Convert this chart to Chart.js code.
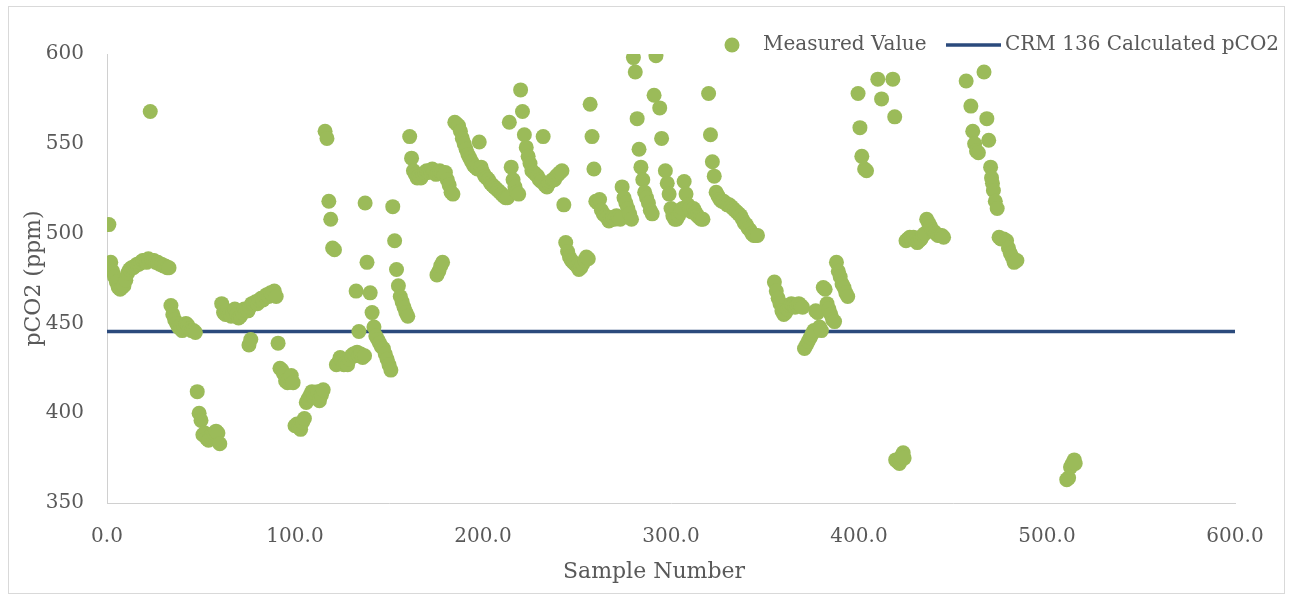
<!DOCTYPE html>
<html><head><meta charset="utf-8">
<script src="https://cdn.jsdelivr.net/npm/chart.js@4.4.1/dist/chart.umd.min.js"></script>
<style>html,body{margin:0;padding:0;background:#fff;}#wrap{width:1290px;height:597px;}</style>
</head><body><div id="wrap"><canvas id="c" width="1290" height="597"></canvas></div>
<script>
// ---- data ----
const seriesNames = ['Measured Value', 'CRM 136 Calculated pCO2'];
const axisTitles = ['Sample Number', 'pCO2 (ppm)'];

const sampleNumber = [
  1,2,3,4,5,6,7,8,9,10,
  11,12,13,14,15,16,17,18,19,20,
  21,22,23,24,25,26,27,28,29,30,
  31,32,33,34,35,36,37,38,39,40,
  41,42,43,44,45,46,47,
  48,49,50,51,52,53,54,55,56,57,58,59,60,
  61,62,63,64,65,66,67,68,69,70,
  71,72,73,74,75,76,77,78,79,80,
  81,82,83,84,85,86,87,88,89,90,
  75.5,76.5,
  91,92,93,94,95,96,97,98,99,100,
  101,102,103,104,105,106,107,108,109,110,
  111,112,113,114,115,116,117,118,119,120,121,
  122,123,124,125,126,127,128,129,130,131,
  132,133,134,135,136,137,
  132.5,134,137.3,138.3,140,
  141,142,143,144,145,146,147,148,149,150,151,
  152,153,154,155,156,157,158,159,160,
  161,162,163,164,165,166,167,168,169,170,
  171,172,173,174,175,176,177,178,179,180,181,182,183,184,
  175.5,176.5,177.5,178.5,
  185,186,187,188,189,190,191,192,193,194,
  195,196,197,198,199,200,201,202,203,204,
  205,206,207,208,209,210,211,212,213,214,
  215,216,217,218,219,220,221,222,223,224,
  225,226,227,228,229,230,231,232,233,234,
  235,236,237,238,239,240,241,242,243,244,
  245,246,247,248,249,250,251,252,253,254,255,256,
  257,258,259,260,261,262,263,264,265,266,
  267,268,269,270,271,272,273,274,275,276,277,278,279,
  280,281,282,283,284,285,286,287,288,289,290,
  291,292,294,295,297,298,299,300,301,302,
  303,304,305,306,307,308,309,310,311,312,313,314,315,316,317,
  320,321,322,323,324,325,326,327,328,329,
  330,331,332,333,334,335,336,337,338,339,340,341,342,343,344,345,346,
  355,356,357,358,359,360,361,362,363,364,
  365,366,367,368,369,370,
  371,372,373,374,375,376,377,378,379,380,
  381,382,383,384,385,386,387,388,389,390,391,392,393,394,
  399.5,400.5,401.5,403,404,410,412,418,419,
  419.5,420.5,421.5,422.5,423.5,424,
  425,426,427,428,429,430,431,432,433,434,435,
  436,437,438,439,440,441,442,443,444,445,
  457,459.5,460.5,461.5,462.5,463.5,466.5,468,469,470,
  470.5,471,471.5,472.5,473.5,474.5,475.5,477,478.5,479.5,
  480.5,481.5,482.5,484,
  510.5,511.5,512.5,513.5,514.5,515
];

const measuredPco2 = [
  505,484,479,476,473,470,469,470,471,474,
  478,480,481,481,482,483,483,484,485,485,
  484,486,568,485,485,484,484,483,483,482,
  482,481,481,460,455,452,450,448,447,446,
  448,450,449,447,446,446,445,
  412,400,396,388,389,386,385,387,388,389,390,389,383,
  461,456,455,457,455,454,456,458,455,453,
  454,456,458,457,457,459,461,461,462,461,
  463,464,463,465,466,465,467,466,468,465,
  438,441,
  439,425,424,422,418,417,420,421,417,393,
  394,392,391,395,397,406,408,410,412,409,
  411,412,407,410,413,557,553,518,508,492,491,
  427,428,431,429,427,428,427,430,432,433,
  432,434,432,433,431,432,
  468,445.5,517,484,467,
  456,448,443,441,439,437,436,433,430,427,424,
  515,496,480,471,465,462,459,456,454,
  554,542,535,533,531,532,531,533,534,535,
  534,535,536,535,533,534,535,534,533,534,530,527,523,522,
  477,479,482,484,
  562,561,560,557,553,550,547,544,542,540,
  538,537,536,551,537,534,532,531,530,528,
  527,526,525,524,523,522,521,520,520,562,
  537,530,526,523,522,580,568,555,548,543,
  539,535,534,533,532,530,529,554,527,526,
  528,529,530,530,532,533,534,535,516,495,
  490,487,485,484,483,482,480,481,483,485,487,486,
  572,554,536,518,517,519,513,511,510,509,
  507,508,509,508,510,509,508,526,520,517,514,511,508,
  598,590,564,547,537,530,523,520,517,513,511,
  577,599,570,553,535,528,522,514,510,508,
  508,510,512,514,529,522,516,514,512,514,512,510,509,508,508,
  578,555,540,532,523,521,519,518,518,517,
  516,516,515,514,513,512,511,510,508,506,505,503,502,500,499,499,499,
  473,468,464,461,457,455,456,458,460,461,
  460,459,460,461,460,459,
  436,438,440,442,444,446,457,456,448,446,
  470,469,461,458,455,452,451,484,479,476,472,470,467,465,
  578,559,543,536,535,586,575,586,565,
  374,373,372,376,378,375,
  496,497,498,497,498,496,495,496,497,499,500,
  508,506,504,502,501,500,499,499,499,498,
  585,571,557,550,546,545,590,564,552,537,
  531,528,524,518,514,498,497,497,496,492,
  489,487,484,485,
  363,364,370,372,374,372
];

const crmSamples = [0, 600];
const crmPco2 = [445.5, 445.5];
const xTickValues = [0, 100, 200, 300, 400, 500, 600];
const yTickValues = [350, 400, 450, 500, 550, 600];

// ---- styling ----
const GREEN = '#9BBB59';
const NAVY = '#2B4A7C';
const TEXT = '#595959';
const FONT = "'DejaVu Serif', serif";

const measuredPoints = sampleNumber.map((s, i) => ({ x: s, y: measuredPco2[i] }));
const crmPoints = crmSamples.map((s, i) => ({ x: s, y: crmPco2[i] }));

const framePlugin = {
  id: 'frame',
  beforeDraw(chart) {
    const ctx = chart.ctx;
    ctx.save();
    ctx.fillStyle = '#ffffff';
    ctx.fillRect(0, 0, chart.width, chart.height);
    ctx.strokeStyle = '#d9d9d9';
    ctx.lineWidth = 1;
    ctx.strokeRect(8.5, 6.5, 1276, 587);
    ctx.restore();
  },
  afterDraw(chart) {
    const ctx = chart.ctx;
    ctx.save();
    // x-axis title
    ctx.fillStyle = TEXT;
    ctx.font = "22px " + FONT;
    ctx.textAlign = 'center';
    ctx.textBaseline = 'middle';
    ctx.fillText(axisTitles[0], 654, 572);
    // legend
    const ly = 45;
    ctx.fillStyle = GREEN;
    ctx.beginPath();
    ctx.arc(732, ly, 7.5, 0, Math.PI * 2);
    ctx.fill();
    ctx.fillStyle = TEXT;
    ctx.font = "20px " + FONT;
    ctx.textAlign = 'left';
    ctx.fillText(seriesNames[0], 763, ly);
    ctx.strokeStyle = NAVY;
    ctx.lineWidth = 3.5;
    ctx.beginPath();
    ctx.moveTo(946, ly);
    ctx.lineTo(1001, ly);
    ctx.stroke();
    ctx.fillText(seriesNames[1], 1005, ly);
    ctx.restore();
  }
};

new Chart(document.getElementById('c'), {
  type: 'scatter',
  data: {
    datasets: [
      {
        label: seriesNames[0],
        data: measuredPoints,
        backgroundColor: GREEN,
        borderWidth: 0,
        pointRadius: 7.5,
        pointHoverRadius: 7.5
      },
      {
        type: 'line',
        label: seriesNames[1],
        data: crmPoints,
        borderColor: NAVY,
        borderWidth: 3.5,
        pointRadius: 0,
        fill: false
      }
    ]
  },
  options: {
    responsive: false,
    animation: false,
    devicePixelRatio: 1,
    layout: { padding: { left: 0, right: 55, top: 54, bottom: 0 } },
    plugins: { legend: { display: false }, tooltip: { enabled: false } },
    scales: {
      x: {
        type: 'linear',
        min: 0, max: 600,
        afterFit(s) { s.height = 94; },
        afterBuildTicks(s) { s.ticks = xTickValues.map(v => ({ value: v })); },
        grid: { display: false, drawTicks: false },
        border: { display: true, color: '#d0d0d0', width: 1 },
        ticks: {
          padding: 22, color: TEXT, maxRotation: 0, autoSkip: false,
          font: { family: FONT, size: 20 },
          callback: v => Number(v).toFixed(1)
        },
        title: { display: false }
      },
      y: {
        type: 'linear',
        min: 350, max: 600,
        afterFit(s) { s.width = 107; },
        afterBuildTicks(s) { s.ticks = yTickValues.map(v => ({ value: v })); },
        grid: { display: false, drawTicks: false },
        border: { display: true, color: '#d0d0d0', width: 1 },
        ticks: {
          padding: 23, color: TEXT, autoSkip: false,
          font: { family: FONT, size: 20 },
          callback: v => String(v)
        },
        title: {
          display: true, text: axisTitles[1], color: TEXT,
          font: { family: FONT, size: 22 },
          padding: { top: 21, bottom: 0 }
        }
      }
    }
  },
  plugins: [framePlugin]
});
</script>
</body></html>
